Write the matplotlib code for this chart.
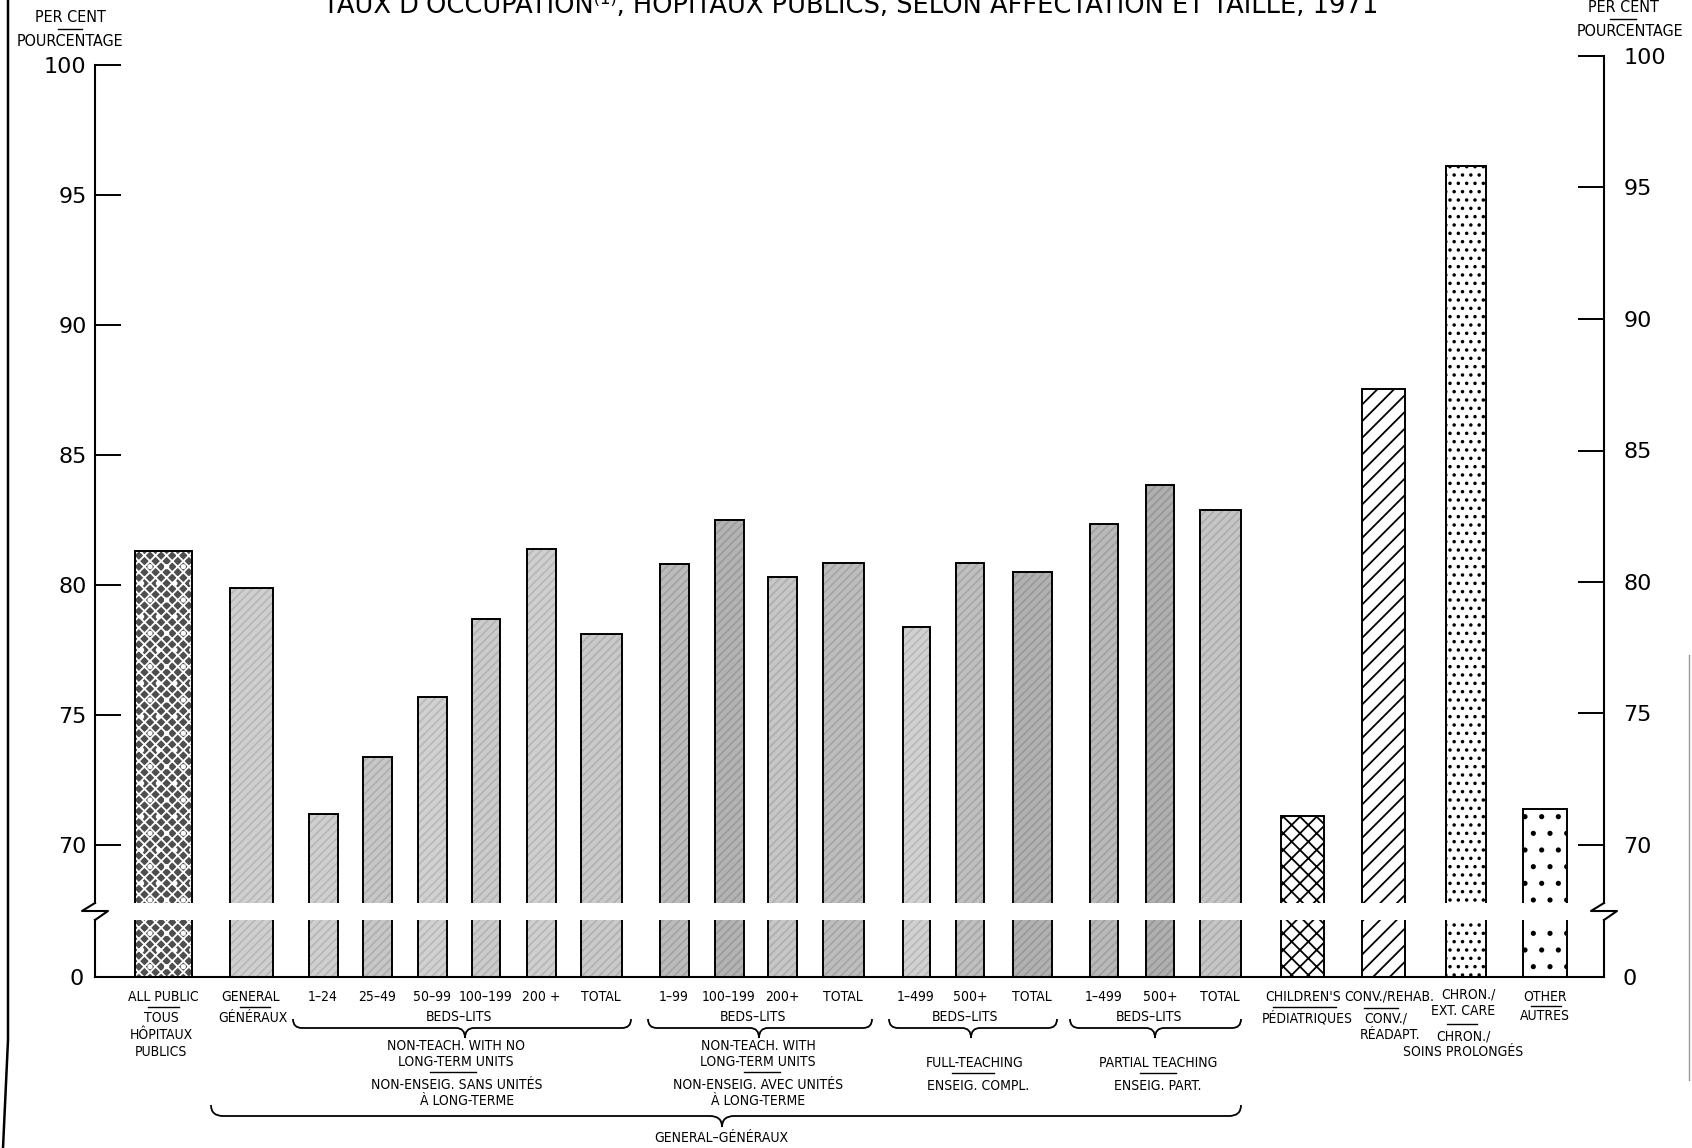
import matplotlib
matplotlib.use('Agg')
import matplotlib.pyplot as plt
from matplotlib import font_manager
from matplotlib.lines import Line2D
from matplotlib.path import Path
from matplotlib.patches import PathPatch
from matplotlib.transforms import Affine2D

# --- data --------------------------------------------------------------------
bar_labels = ['ALL PUBLIC', 'GENERAL',
              '1–24', '25–49', '50–99', '100–199', '200 +', 'TOTAL',
              '1–99', '100–199', '200+', 'TOTAL',
              '1–499', '500+', 'TOTAL',
              '1–499', '500+', 'TOTAL',
              "CHILDREN'S", 'CONV./REHAB.', 'CHRON./', 'OTHER']
occupancy = [81.3, 79.9,
             71.2, 73.4, 75.7, 78.7, 81.4, 78.1,
             80.8, 82.5, 80.3, 80.85,
             78.4, 80.85, 80.5,
             82.35, 83.85, 82.9,
             71.1, 87.55, 96.1, 71.4]
y_ticks = [70, 75, 80, 85, 90, 95, 100]

title = "TAUX D'OCCUPATION⁽¹⁾, HOPITAUX PUBLICS, SELON AFFECTATION ET TAILLE, 1971"

# --- layout (pixel positions in the 1692x1148 picture) ----------------------
W, H = 1692, 1148
x_centres = [163, 251, 323, 377, 432, 486, 541, 601, 674, 729, 782, 843,
             916, 970, 1032, 1104, 1160, 1220, 1302, 1383, 1466, 1545]
label_x = list(x_centres)
label_x[18] = 1303
label_x[19] = 1389
label_x[20] = 1468
widths = [57, 43, 29, 29, 29, 28, 29, 41, 29, 29, 29, 41,
          27, 28, 39, 28, 28, 41, 43, 43, 40, 44]
# gray tone of the halftone bars, None for the patterned ones
tones = [None, 200,
         200, 192, 202, 196, 200, 194,
         180, 172, 192, 182,
         202, 184, 170,
         178, 168, 190,
         None, None, None, None]
patterns = {0: 'mottled', 18: 'xx', 19: '//', 20: '..', 21: '.'}

X0, X1 = 95, 1604          # left / right axis lines
UP_TOP, UP_BOT = 65, 903   # upper panel (70-100), left scale
R_TOP = 56                 # right scale of the scan is a little taller
LO_TOP, LO_BOT = 920, 977  # lower panel (0)
PX_PER_UNIT = 26.0
R_PX_PER_UNIT = (845 - R_TOP) / 30.0

fonts = font_manager.fontManager.ttflist
stretch = 'normal'
LAB = 'DejaVu Sans'
LAB_SIZE = 9.5
if any(f.name == 'DejaVu Sans' and f.stretch == 'condensed' for f in fonts):
    stretch = 'condensed'
    LAB_SIZE = 10
elif any(f.name == 'Liberation Sans Narrow' for f in fonts):
    LAB = 'Liberation Sans Narrow'
    LAB_SIZE = 10

plt.rcParams['hatch.linewidth'] = 1.3
plt.rcParams['font.family'] = ['DejaVu Sans']

fig = plt.figure(figsize=(W / 100, H / 100), dpi=100)
px = Affine2D().scale(1.0 / W, -1.0 / H).translate(0, 1) + fig.transFigure

ax_up = fig.add_axes([X0 / W, 1 - UP_BOT / H, (X1 - X0) / W, (UP_BOT - UP_TOP) / H])
ax_lo = fig.add_axes([X0 / W, 1 - LO_BOT / H, (X1 - X0) / W, (LO_BOT - LO_TOP) / H])
ax_up.set_ylim(100 - (UP_BOT - UP_TOP) / PX_PER_UNIT, 100)
ax_lo.set_ylim(0, (LO_BOT - LO_TOP) / PX_PER_UNIT)
# right-hand scale as a separate frame
ax_r = fig.add_axes([X0 / W, 1 - UP_BOT / H, (X1 - X0) / W, (UP_BOT - R_TOP) / H])
ax_r.set_ylim(100 - (UP_BOT - R_TOP) / R_PX_PER_UNIT, 100)
ax_r.patch.set_visible(False)


def gray(v):
    v = max(0, min(255, v))
    return '#%02x%02x%02x' % (v, v, v)


for ax in (ax_up, ax_lo):
    ax.set_xlim(X0, X1)
    for i, (x, v, w) in enumerate(zip(x_centres, occupancy, widths)):
        p = patterns.get(i)
        if p == 'mottled':
            ax.bar(x, v, w, color='#4e4e4e', edgecolor='white', hatch='xxx.', linewidth=0)
        elif p is not None:
            ax.bar(x, v, w, color='white', edgecolor='black', hatch=p, linewidth=0)
        else:
            t = tones[i]
            ax.bar(x, v, w, color=gray(t + 7), edgecolor=gray(t - 16), hatch='////', linewidth=0)
        ax.bar(x, v, w, fill=False, edgecolor='black', linewidth=1.4)
    ax.spines['top'].set_visible(False)
    for s in ('left', 'right', 'bottom'):
        ax.spines[s].set_linewidth(1.5)
    ax.set_xticks([])

ax_up.spines['bottom'].set_visible(False)
ax_up.spines['right'].set_visible(False)
ax_up.set_yticks(y_ticks)
ax_up.set_yticklabels([str(t) for t in y_ticks])
ax_up.tick_params(axis='y', direction='in', length=19, width=1.4, labelsize=16, pad=6,
                  left=True, right=False)

for s in ('top', 'bottom', 'left'):
    ax_r.spines[s].set_visible(False)
ax_r.spines['right'].set_linewidth(1.5)
ax_r.set_xticks([])
ax_r.set_xlim(X0, X1)
ax_r.set_yticks(y_ticks)
ax_r.set_yticklabels([str(t) for t in y_ticks])
ax_r.tick_params(axis='y', direction='in', length=19, width=1.4, labelsize=16, pad=14,
                 left=False, labelleft=False, right=True, labelright=True)

ax_lo.set_yticks([0])
ax_lo.set_yticklabels(['0'])
ax_lo.tick_params(axis='y', length=0, labelsize=16, pad=8, left=True, right=False)
ax_lo2 = ax_lo.twinx()
ax_lo2.set_ylim(ax_lo.get_ylim())
ax_lo2.set_yticks([0])
ax_lo2.set_yticklabels(['0'])
ax_lo2.tick_params(axis='y', length=0, labelsize=16, pad=13)
for s in ('top', 'left', 'right', 'bottom'):
    ax_lo2.spines[s].set_visible(False)

# axis break (zig-zag) on both axis lines
for x0 in (X0, X1):
    fig.add_artist(Line2D([x0, x0 - 13, x0 + 13, x0], [UP_BOT, UP_BOT + 8, UP_BOT + 8, LO_TOP],
                          transform=px, color='black', linewidth=1.5))


def txt(x, y, s, size=None, **kw):
    fig.text(x, y, s, transform=px, ha='center', va='center',
             fontsize=size or LAB_SIZE, family=LAB, fontstretch=stretch, **kw)


def rule(xa, xb, y):
    fig.add_artist(Line2D([xa, xb], [y, y], transform=px, color='black', linewidth=1.0))


def brace(xa, xb, xc, ytop, ybot, ytip, r=9):
    verts = [(xa, ytop), (xa, ybot), (xa + r, ybot), (xc - r, ybot),
             (xc, ybot), (xc, ytip), (xc, ybot), (xc + r, ybot),
             (xb - r, ybot), (xb, ybot), (xb, ytop)]
    codes = [Path.MOVETO, Path.CURVE3, Path.CURVE3, Path.LINETO,
             Path.CURVE3, Path.CURVE3, Path.CURVE3, Path.CURVE3,
             Path.LINETO, Path.CURVE3, Path.CURVE3]
    fig.add_artist(PathPatch(Path(verts, codes), transform=px, fill=False,
                             edgecolor='black', linewidth=1.3))


# title (cut by the top edge as in the scan) and unit headers
fig.text(851, 13, title, transform=px, ha='center', va='baseline', fontsize=18.5)
HEAD = LAB_SIZE + 1.5
txt(70, 17, 'PER CENT', size=HEAD)
rule(58, 82, 29)
txt(70, 42, 'POURCENTAGE', size=HEAD)
txt(1623, 7, 'PER CENT', size=HEAD)
rule(1610, 1636, 19)
txt(1630, 31, 'POURCENTAGE', size=HEAD)

# category labels under the bars
for x, s in zip(label_x, bar_labels):
    if s == 'CHRON./':
        txt(x, 995, s)
    else:
        txt(x, 997, s)

rule(148, 179, 1007)
txt(161, 1018, 'TOUS')
txt(161, 1035, 'HÔPITAUX')
txt(161, 1052, 'PUBLICS')
rule(240, 270, 1007)
txt(253, 1018, 'GÉNÉRAUX')

rule(1273, 1336, 1007)
txt(1307, 1018, 'PÉDIATRIQUES')
rule(1364, 1398, 1008)
txt(1386, 1018, 'CONV./')
txt(1390, 1035, 'RÉADAPT.')
txt(1463, 1011, 'EXT. CARE')
rule(1447, 1477, 1024)
txt(1463, 1036, 'CHRON./')
txt(1463, 1052, 'SOINS PROLONGÉS')
rule(1531, 1561, 1006)
txt(1545, 1016, 'AUTRES')

# BEDS-LITS braces and their group names
for xa, xb, xc in ((293, 631, 465), (648, 872, 759), (889, 1057, 971), (1070, 1241, 1155)):
    txt(xc - 6, 1017, 'BEDS–LITS')
    brace(xa, xb, xc, 1019, 1028, 1038)

txt(456, 1046, 'NON-TEACH. WITH NO')
txt(456, 1062, 'LONG-TERM UNITS')
rule(430, 476, 1072)
txt(457, 1085, 'NON-ENSEIG. SANS UNITÉS')
txt(467, 1101, 'À LONG-TERME')

txt(758, 1046, 'NON-TEACH. WITH')
txt(758, 1062, 'LONG-TERM UNITS')
rule(744, 780, 1072)
txt(758, 1085, 'NON-ENSEIG. AVEC UNITÉS')
txt(758, 1101, 'À LONG-TERME')

txt(975, 1063, 'FULL-TEACHING')
rule(952, 994, 1073)
txt(978, 1086, 'ENSEIG. COMPL.')

txt(1158, 1063, 'PARTIAL TEACHING')
rule(1140, 1176, 1073)
txt(1158, 1086, 'ENSEIG. PART.')

brace(211, 1241, 722, 1105, 1116, 1127, r=12)
txt(721, 1138, 'GENERAL–GÉNÉRAUX')

# page edges of the scan
fig.add_artist(Line2D([8, 8, 3], [0, 1040, 1148], transform=px, color='black', linewidth=1.8))
fig.add_artist(Line2D([1689, 1689], [655, 1080], transform=px, color='#9a9a9a', linewidth=1.0))

fig.savefig('out.png', dpi=100, facecolor='white')
